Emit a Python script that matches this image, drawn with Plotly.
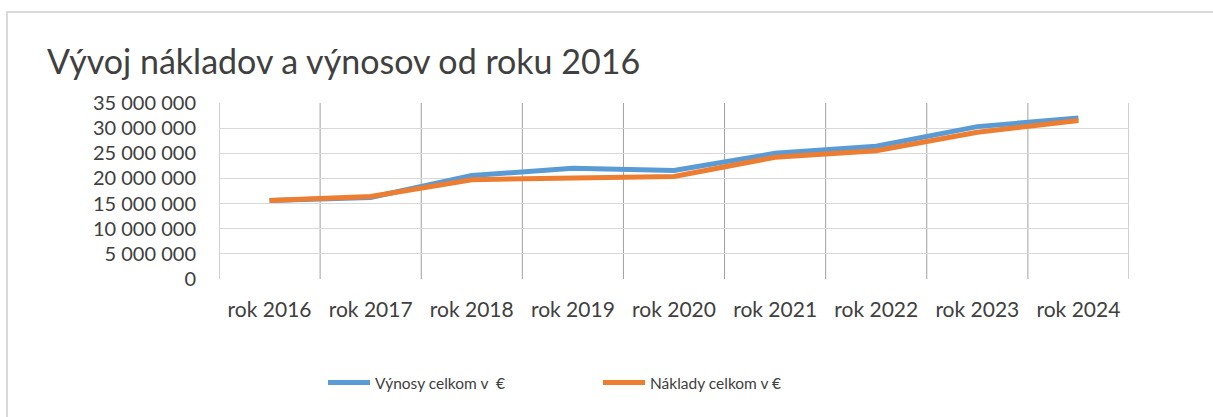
import plotly.graph_objects as go

categories = ["rok 2016", "rok 2017", "rok 2018", "rok 2019", "rok 2020",
              "rok 2021", "rok 2022", "rok 2023", "rok 2024"]
vynosy = [15_600_000, 16_200_000, 20_600_000, 22_000_000, 21_600_000,
          25_000_000, 26_400_000, 30_300_000, 32_000_000]
naklady = [15_600_000, 16_400_000, 19_750_000, 20_100_000, 20_400_000,
           24_200_000, 25_500_000, 29_200_000, 31_500_000]
y_ticks = [0, 5_000_000, 10_000_000, 15_000_000, 20_000_000,
           25_000_000, 30_000_000, 35_000_000]

W, H = 1213, 417
L, R, T, B = 219, 1129, 103, 279
FONT = "Lato"
TXT = "#404040"

x_idx = list(range(len(categories)))

fig = go.Figure()
fig.add_trace(go.Scatter(x=x_idx, y=vynosy, mode="lines", name="Výnosy celkom v  €",
                         line=dict(color="#5B9BD5", width=5, shape="linear")))
fig.add_trace(go.Scatter(x=x_idx, y=naklady, mode="lines", name="Náklady celkom v €",
                         line=dict(color="#ED7D31", width=5, shape="linear")))

def px_x(p):
    return (p - L) / (R - L)

def px_y(p):
    return (B - p) / (B - T)

shapes = [
    dict(type="rect", xref="paper", yref="paper",
         x0=px_x(7), x1=px_x(1230), y0=px_y(430), y1=px_y(12),
         line=dict(color="#d9d9d9", width=2), layer="below"),
]
for i in range(len(categories) + 1):
    shapes.append(dict(type="line", xref="x", yref="paper",
                       x0=i - 0.5, x1=i - 0.5, y0=0, y1=1,
                       line=dict(color="#a0a0a0", width=1), layer="below"))

fig.update_layout(
    width=W, height=H,
    margin=dict(l=L, r=W - R, t=T, b=H - B, autoexpand=False),
    paper_bgcolor="white", plot_bgcolor="white",
    separators=". ",
    font=dict(family=FONT, color=TXT, size=20),
    title=dict(text="Vývoj nákladov a výnosov od roku 2016",
               x=47 / W, xanchor="left", xref="container",
               y=1 - 62 / H, yanchor="middle", yref="container",
               font=dict(family=FONT, size=34, color=TXT)),
    xaxis=dict(range=[-0.5, len(categories) - 0.5], tickmode="array",
               tickvals=x_idx, ticktext=categories, showgrid=False,
               zeroline=False, showline=False, ticks="",
               ticklabelstandoff=16, tickfont=dict(size=21, color=TXT),
               fixedrange=True),
    yaxis=dict(range=[0, 35_000_000], tickmode="array", tickvals=y_ticks,
               tickformat=",d", showgrid=True, gridcolor="#d9d9d9", gridwidth=1.3,
               zeroline=False, showline=False, ticks="",
               ticklabelstandoff=22, tickfont=dict(size=20, color=TXT),
               fixedrange=True),
    shapes=shapes,
    showlegend=True,
    legend=dict(orientation="h", x=px_x(323), xanchor="left", xref="paper",
                y=px_y(383), yanchor="middle", yref="paper",
                itemwidth=42,
                entrywidth=218, entrywidthmode="pixels",
                font=dict(family=FONT, size=15.5, color=TXT),
                bgcolor="rgba(0,0,0,0)"),
)

fig.write_html("out.html", config={"displayModeBar": False},
               post_script="document.body.style.margin='0';document.body.style.overflow='hidden';")
